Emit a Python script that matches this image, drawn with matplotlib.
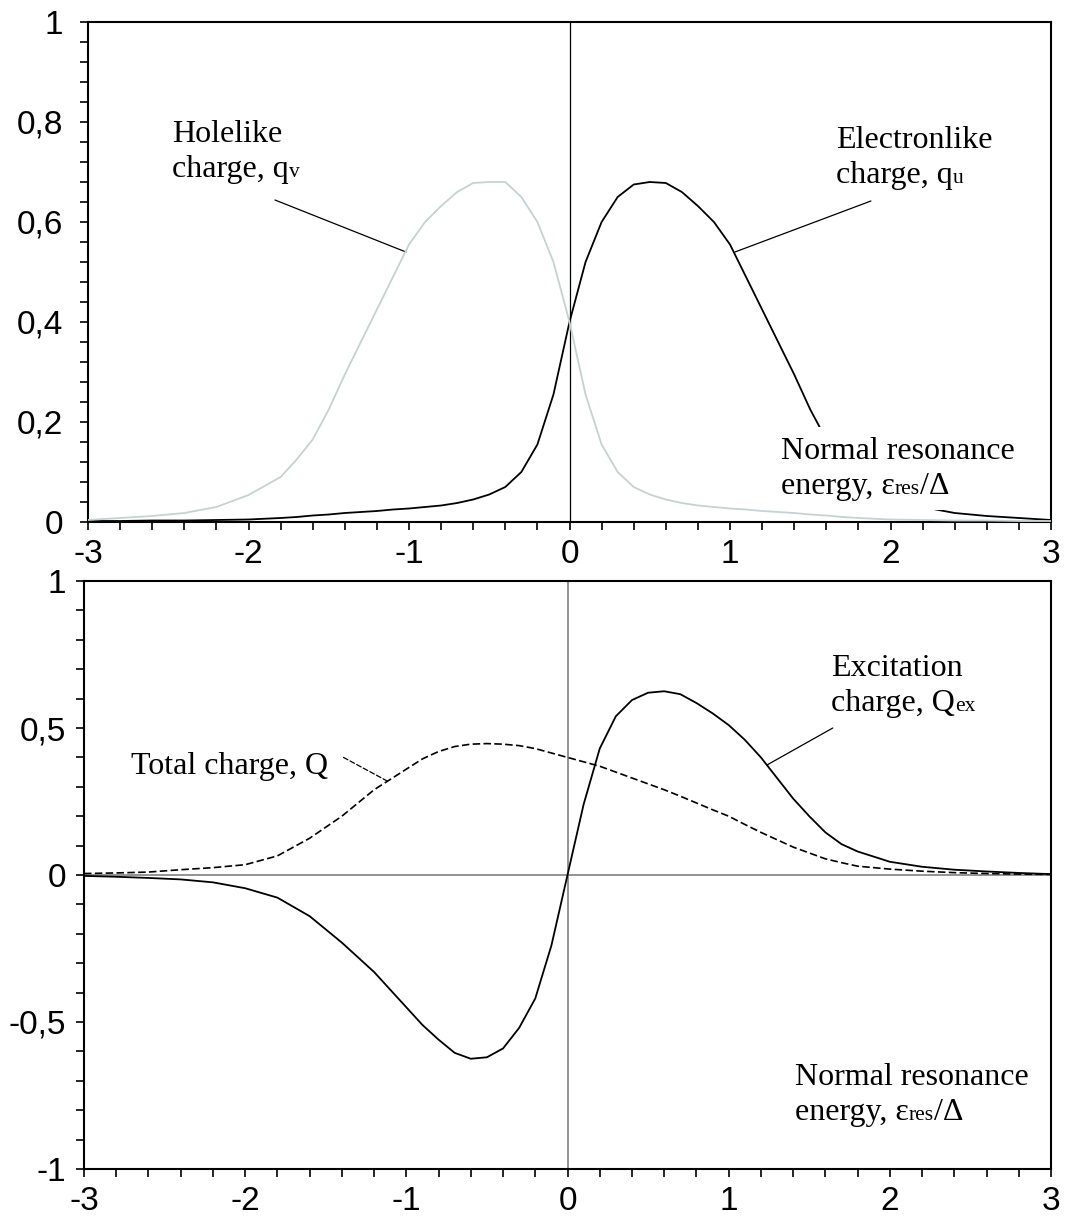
import matplotlib
matplotlib.use("Agg")
import matplotlib.pyplot as plt
from matplotlib.offsetbox import TextArea, HPacker, VPacker, AnnotationBbox
from matplotlib.ticker import MultipleLocator, FuncFormatter

# --- data ---
x_top = [-3.0, -2.8, -2.6, -2.4, -2.2, -2.0, -1.8, -1.7, -1.6, -1.5, -1.4, -1.3,
         -1.2, -1.1, -1.0, -0.9, -0.8, -0.7, -0.6, -0.5, -0.4, -0.3, -0.2, -0.1,
         0.0, 0.1, 0.2, 0.3, 0.4, 0.5, 0.6, 0.7, 0.8, 0.9, 1.0, 1.1, 1.2, 1.3,
         1.4, 1.5, 1.6, 1.7, 1.8, 2.0, 2.2, 2.4, 2.6, 2.8, 3.0]
q_u = [0.002, 0.002, 0.003, 0.003, 0.004, 0.005, 0.008, 0.010, 0.013, 0.015,
       0.018, 0.020, 0.022, 0.025, 0.027, 0.030, 0.033, 0.038, 0.045, 0.055,
       0.07, 0.10, 0.155, 0.255, 0.40, 0.52, 0.60, 0.65, 0.675, 0.68, 0.678,
       0.66, 0.632, 0.60, 0.555, 0.49, 0.425, 0.36, 0.295, 0.225, 0.165, 0.125,
       0.09, 0.054, 0.03, 0.018, 0.012, 0.008, 0.004]
q_v = [0.004, 0.008, 0.012, 0.018, 0.03, 0.054, 0.09, 0.125, 0.165, 0.225,
       0.295, 0.36, 0.425, 0.49, 0.555, 0.60, 0.632, 0.66, 0.678, 0.68, 0.68,
       0.65, 0.60, 0.52, 0.40, 0.255, 0.155, 0.10, 0.07, 0.055, 0.045, 0.038,
       0.033, 0.030, 0.027, 0.025, 0.022, 0.020, 0.018, 0.015, 0.013, 0.010,
       0.008, 0.005, 0.004, 0.003, 0.003, 0.002, 0.002]

x_bot = [-3.0, -2.8, -2.6, -2.4, -2.2, -2.0, -1.8, -1.6, -1.4, -1.2, -1.0, -0.9,
         -0.8, -0.7, -0.6, -0.5, -0.4, -0.3, -0.2, -0.1, 0.0, 0.1, 0.2, 0.3,
         0.4, 0.5, 0.6, 0.7, 0.8, 0.9, 1.0, 1.1, 1.2, 1.3, 1.4, 1.5, 1.6, 1.7,
         1.8, 2.0, 2.2, 2.4, 2.6, 2.8, 3.0]
Q_ex = [-0.003, -0.006, -0.01, -0.015, -0.025, -0.045, -0.077, -0.14, -0.23,
        -0.33, -0.45, -0.51, -0.56, -0.605, -0.625, -0.62, -0.59, -0.52, -0.42,
        -0.24, 0.0, 0.24, 0.43, 0.54, 0.595, 0.62, 0.625, 0.615, 0.585, 0.55,
        0.51, 0.46, 0.40, 0.33, 0.26, 0.20, 0.145, 0.105, 0.08, 0.045, 0.028,
        0.018, 0.012, 0.007, 0.003]
Q_tot = [0.005, 0.007, 0.01, 0.018, 0.025, 0.035, 0.065, 0.125, 0.2, 0.29, 0.36,
         0.395, 0.42, 0.437, 0.445, 0.447, 0.445, 0.44, 0.43, 0.415, 0.40, 0.385,
         0.37, 0.35, 0.33, 0.31, 0.29, 0.268, 0.245, 0.222, 0.2, 0.172, 0.145,
         0.12, 0.095, 0.075, 0.055, 0.042, 0.03, 0.02, 0.013, 0.008, 0.005,
         0.003, 0.002]

W, H = 1067, 1219
SERIF = "Liberation Serif"
SANS = "Liberation Sans"
GRAYCURVE = "#c3d3d3"
TXT = 23
SUB = 15.5

plt.rcParams["font.family"] = SANS

fig = plt.figure(figsize=(W / 100, H / 100), dpi=100)
ax1 = fig.add_axes([88 / W, 1 - 522 / H, (1051 - 88) / W, (522 - 22) / H])
ax2 = fig.add_axes([84 / W, 1 - 1169 / H, (1051 - 84) / W, (1169 - 581) / H])

comma = FuncFormatter(lambda v, p: f"{v:g}".replace(".", ","))


def style(ax, ymaj, ymin, ypad):
    ax.set_xlim(-3, 3)
    ax.xaxis.set_major_locator(MultipleLocator(1))
    ax.xaxis.set_minor_locator(MultipleLocator(0.2))
    ax.yaxis.set_major_locator(MultipleLocator(ymaj))
    ax.yaxis.set_minor_locator(MultipleLocator(ymin))
    ax.xaxis.set_major_formatter(comma)
    ax.yaxis.set_major_formatter(comma)
    ax.tick_params(which="both", direction="out", length=6, width=1.2)
    ax.tick_params(axis="x", labelsize=24, pad=6)
    ax.tick_params(axis="y", labelsize=24, pad=ypad)
    for s in ax.spines.values():
        s.set_linewidth(1.5)


def label(ax, px, py, lines, white=False):
    rows = []
    for parts in lines:
        areas = [TextArea(t, textprops=dict(family=SERIF, size=s, color="black"))
                 for t, s in parts]
        rows.append(HPacker(children=areas, align="baseline", pad=0, sep=0))
    box = VPacker(children=rows, align="left", pad=0, sep=4)
    ab = AnnotationBbox(box, (px, H - py), xycoords="figure pixels",
                        box_alignment=(0, 1), frameon=white, pad=0.7,
                        bboxprops=dict(fc="white", ec="none"), zorder=5)
    ax.add_artist(ab)


def leader(ax, p0, p1, ls="-"):
    ax.annotate("", xy=p1, xytext=p0,
                arrowprops=dict(arrowstyle="-", lw=0.9, color="black",
                                linestyle=ls, shrinkA=0, shrinkB=0))


# --- top panel ---
style(ax1, 0.2, 0.04, 12)
ax1.set_ylim(0, 1)
ax1.axvline(0, color="black", lw=0.9, zorder=1)
ax1.plot(x_top, q_v, color=GRAYCURVE, lw=1.3, zorder=6)
ax1.plot(x_top, q_u, color="black", lw=1.3, zorder=3)

label(ax1, 172, 120, [[("Holelike", TXT)], [("charge, q", TXT), ("v", SUB)]])
label(ax1, 836, 126, [[("Electronlike", TXT)], [("charge, q", TXT), ("u", SUB)]])
label(ax1, 781, 437, [[("Normal resonance", TXT)],
                      [("energy, ε", TXT), ("res", SUB), ("/Δ", TXT)]], white=True)
leader(ax1, (-1.835, 0.644), (-1.019, 0.54))
leader(ax1, (1.878, 0.642), (1.031, 0.54))

# --- bottom panel ---
style(ax2, 0.5, 0.1, 7)
ax2.set_ylim(-1, 1)
ax2.axvline(0, color="#808080", lw=1.2, zorder=1)
ax2.axhline(0, color="#808080", lw=1.2, zorder=1)
ax2.plot(x_bot, Q_tot, color="black", lw=1.2, ls=(0, (4.5, 2)), zorder=3)
ax2.plot(x_bot, Q_ex, color="black", lw=1.3, zorder=3)

label(ax2, 131, 752, [[("Total charge, Q", TXT)]])
label(ax2, 831, 654, [[("Excitation", TXT)], [("charge, Q", TXT), ("ex", SUB)]])
label(ax2, 795, 1063, [[("Normal resonance", TXT)],
                       [("energy, ε", TXT), ("res", SUB), ("/Δ", TXT)]])
leader(ax2, (-1.39, 0.40), (-1.12, 0.32), ls=(0, (4, 2)))
leader(ax2, (1.646, 0.5), (1.237, 0.374))

fig.savefig("out.png", dpi=100)
